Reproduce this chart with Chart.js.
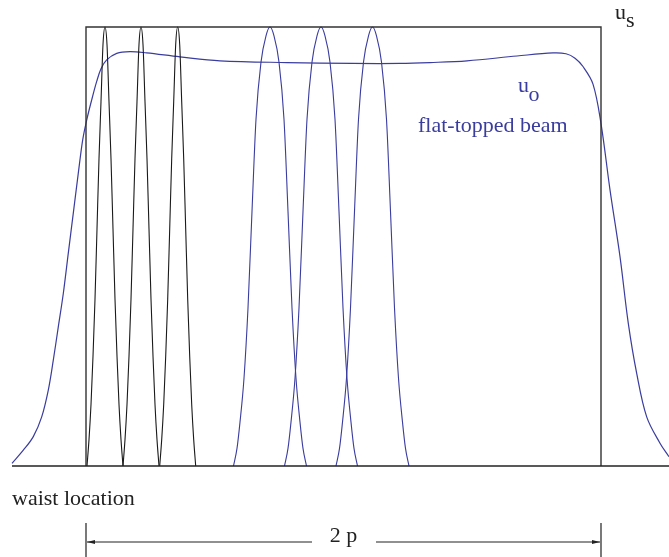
<!DOCTYPE html>
<html>
<head>
<meta charset="utf-8">
<title>flat-topped beam</title>
<script src="https://cdn.jsdelivr.net/npm/chart.js@4/dist/chart.umd.min.js"></script>
<style>
  html, body { margin: 0; padding: 0; background: #fff; overflow: hidden; }
  #wrap { width: 669px; height: 557px; position: relative; }
</style>
</head>
<body>
<div id="wrap"><canvas id="chart"></canvas></div>
<script>
// x is position across the figure, y is amplitude (1 = top of the slit u_s)

// slit u_s (top-hat) and the baseline
const slitX = [86, 86, 601, 601];
const slitY = [0, 1, 1, 0];
const baseX = [12, 669];
const baseY = [0, 0];

// narrow black peaks near the left edge
const blackCenters = [105, 141, 177.7];
const blackOffsets = [-18, -16, -14, -12, -10, -8, -6, -4, -2, 0, 2, 4, 6, 8, 10, 12, 14, 16, 18];
const blackHeights = [0, 0.06, 0.14, 0.25, 0.38, 0.54, 0.70, 0.83, 0.96, 1, 0.96, 0.83, 0.70, 0.54, 0.38, 0.25, 0.14, 0.06, 0];

// wider blue peaks in the middle
const blueCenters = [270, 321, 372.5];
const blueOffsets = [-36.5, -33, -30, -26, -22, -18, -14, -9, -4, 0, 4, 9, 14, 18, 22, 26, 30, 33, 36.5];
const blueHeights = [0, 0.04, 0.1, 0.2, 0.36, 0.58, 0.79, 0.92, 0.98, 1, 0.98, 0.92, 0.79, 0.58, 0.36, 0.2, 0.1, 0.04, 0];

// flat-topped beam u_o
const beamX = [12, 23.3, 33.3, 41.7, 48.3, 53.3, 58.3, 63.3, 68.3, 73.3, 78.3, 82.7, 86.7, 91.7, 96.7, 101,
  106.7, 116.7, 130, 146.7, 180, 220, 287, 353, 400, 430, 467, 517, 553, 566, 575, 583, 593, 601,
  610, 620, 628.3, 636.7, 646.7, 660, 669];
const beamY = [0.006, 0.036, 0.067, 0.112, 0.173, 0.241, 0.317, 0.393, 0.485, 0.576, 0.667, 0.743, 0.788, 0.834, 0.876, 0.905,
  0.925, 0.940, 0.944, 0.941, 0.932, 0.923, 0.919, 0.917, 0.917, 0.919, 0.923, 0.934, 0.941, 0.939, 0.929, 0.91, 0.87, 0.78,
  0.629, 0.477, 0.325, 0.211, 0.112, 0.052, 0.021];

const BLUE = '#3a3c9e';
const DARK = '#1a1a1a';
const FONT = '22px "Liberation Serif", "Times New Roman", serif';

function pts(xs, ys) {
  return xs.map((v, i) => ({ x: v, y: ys[i] }));
}

function peak(center, offsets, heights) {
  return offsets.map((o, i) => ({ x: center + o, y: heights[i] }));
}

const datasets = [];

datasets.push({ data: pts(baseX, baseY), borderColor: '#222', borderWidth: 1.3, tension: 0 });
datasets.push({ data: pts(slitX, slitY), borderColor: '#333', borderWidth: 1.4, tension: 0 });

blackCenters.forEach(c => {
  datasets.push({ data: peak(c, blackOffsets, blackHeights), borderColor: DARK, borderWidth: 1.1, cubicInterpolationMode: 'monotone' });
});

blueCenters.forEach(c => {
  datasets.push({ data: peak(c, blueOffsets, blueHeights), borderColor: BLUE, borderWidth: 1.1, cubicInterpolationMode: 'monotone' });
});

datasets.push({ data: pts(beamX, beamY), borderColor: BLUE, borderWidth: 1.2, tension: 0.35 });

// labels, the 2p dimension arrow
const annotations = {
  id: 'annotations',
  afterDatasetsDraw(chart) {
    const { ctx, scales: { x } } = chart;
    const left = x.getPixelForValue(slitX[0]);
    const right = x.getPixelForValue(slitX[2]);
    const arrowY = 542;

    ctx.save();
    ctx.font = FONT;
    ctx.textBaseline = 'alphabetic';

    ctx.fillStyle = '#222';
    ctx.fillText('u', 615, 18.5);
    ctx.fillText('s', 626, 27);
    ctx.fillText('waist location', 12, 505);
    ctx.textAlign = 'center';
    ctx.fillText('2 p', (left + right) / 2, 541.5);
    ctx.textAlign = 'left';

    ctx.fillStyle = BLUE;
    ctx.fillText('u', 518, 91.5);
    ctx.fillText('o', 528.5, 100.5);
    ctx.fillText('flat-topped beam', 418, 131.5);

    // dimension line
    ctx.strokeStyle = '#222';
    ctx.lineWidth = 1.2;
    ctx.beginPath();
    ctx.moveTo(left, 523); ctx.lineTo(left, 557);
    ctx.moveTo(right, 523); ctx.lineTo(right, 557);
    ctx.moveTo(left + 1, arrowY); ctx.lineTo(312, arrowY);
    ctx.moveTo(376, arrowY); ctx.lineTo(right - 1, arrowY);
    ctx.stroke();

    ctx.fillStyle = '#222';
    ctx.beginPath();
    ctx.moveTo(left + 1, arrowY); ctx.lineTo(left + 9, arrowY - 2); ctx.lineTo(left + 9, arrowY + 2);
    ctx.closePath();
    ctx.moveTo(right - 1, arrowY); ctx.lineTo(right - 9, arrowY - 2); ctx.lineTo(right - 9, arrowY + 2);
    ctx.closePath();
    ctx.fill();
    ctx.restore();
  }
};

new Chart(document.getElementById('chart'), {
  type: 'line',
  data: { datasets: datasets },
  options: {
    responsive: true,
    maintainAspectRatio: false,
    animation: false,
    layout: { padding: 0 },
    elements: { point: { radius: 0 } },
    plugins: {
      legend: { display: false },
      tooltip: { enabled: false }
    },
    scales: {
      x: { type: 'linear', display: false, min: 0, max: 669 },
      // baseline at 466px, slit top at 27px
      y: { type: 'linear', display: false, min: -91 / 439, max: 1 + 27 / 439 }
    }
  },
  plugins: [annotations]
});
</script>
</body>
</html>
